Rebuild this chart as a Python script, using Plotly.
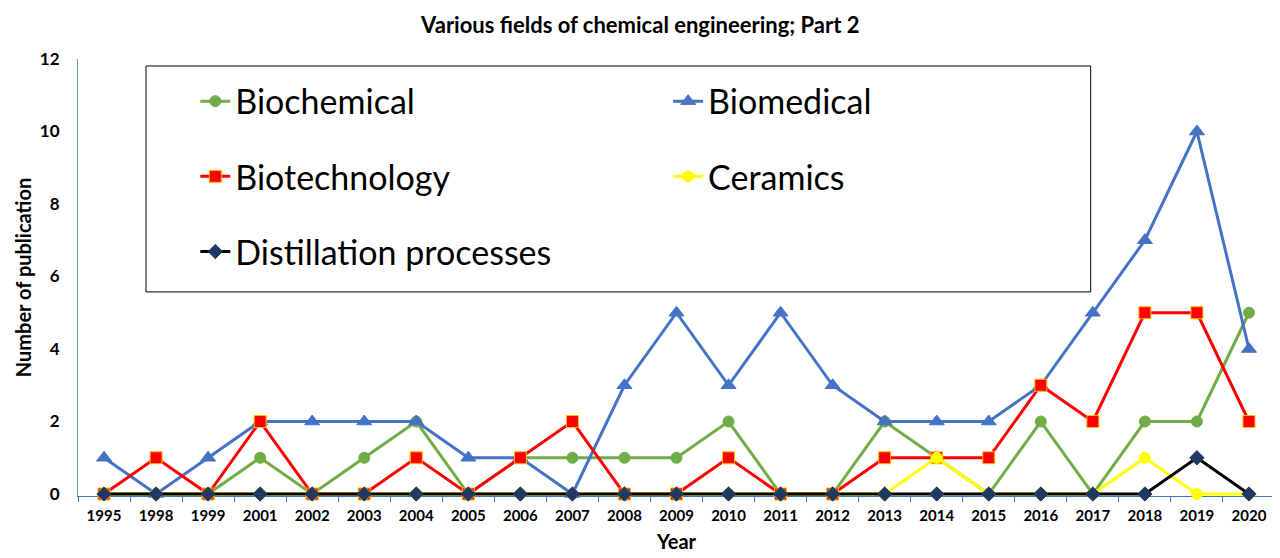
import plotly.graph_objects as go

years = ['1995', '1998', '1999', '2001', '2002', '2003', '2004', '2005', '2006', '2007', '2008', '2009',
         '2010', '2011', '2012', '2013', '2014', '2015', '2016', '2017', '2018', '2019', '2020']

biochemical = [0, 0, 0, 1, 0, 1, 2, 0, 1, 1, 1, 1, 2, 0, 0, 2, 1, 0, 2, 0, 2, 2, 5]
biomedical = [1, 0, 1, 2, 2, 2, 2, 1, 1, 0, 3, 5, 3, 5, 3, 2, 2, 2, 3, 5, 7, 10, 4]
biotechnology = [0, 1, 0, 2, 0, 0, 1, 0, 1, 2, 0, 0, 1, 0, 0, 1, 1, 1, 3, 2, 5, 5, 2]
ceramics = [0, 0, 0, 0, 0, 0, 0, 0, 0, 0, 0, 0, 0, 0, 0, 0, 1, 0, 0, 0, 1, 0, 0]
distillation = [0, 0, 0, 0, 0, 0, 0, 0, 0, 0, 0, 0, 0, 0, 0, 0, 0, 0, 0, 0, 0, 1, 0]

FONT = 'Lato'

fig = go.Figure()

# (name, values, line colour, marker symbol, marker colour, marker border, size, legend)
series = [
    ('Biochemical', biochemical, '#70AD47', 'circle', '#70AD47', '#70AD47', 11, 'legend'),
    ('Biomedical', biomedical, '#4472C4', 'triangle-up', '#4472C4', '#4472C4', 13, 'legend2'),
    ('Biotechnology', biotechnology, '#FF0000', 'square', '#FF0000', '#FFC000', 12, 'legend'),
    ('Ceramics', ceramics, '#FFFF00', 'circle', '#FFFF00', '#FFFF00', 11, 'legend2'),
    ('Distillation processes', distillation, '#000000', 'diamond', '#203864', '#203864', 11, 'legend'),
]

for name, vals, lc, sym, mc, mb, sz, lg in series:
    fig.add_trace(go.Scatter(
        x=years, y=vals, name=name, mode='lines+markers',
        line=dict(color=lc, width=3),
        marker=dict(symbol=sym, color=mc, size=sz, line=dict(color=mb, width=1)),
        cliponaxis=False, legend=lg, legendgroup=name,
    ))

# legend frame
fig.add_shape(type='rect', xref='paper', yref='paper',
              x0=0.0568, x1=0.846, y0=0.467, y1=0.984,
              line=dict(color='black', width=1), fillcolor='rgba(0,0,0,0)')

legend_style = dict(font=dict(family=FONT, size=34, color='black'), bgcolor='rgba(0,0,0,0)',
                    tracegroupgap=28, xanchor='left', yanchor='top', itemwidth=30)

# page body adds 8px offset, so margins are shifted up/left by 8
fig.update_layout(
    width=1280, height=558,
    margin=dict(l=70, r=13, t=51, b=70),
    plot_bgcolor='white', paper_bgcolor='white',
    title=dict(text='<b>Various fields of chemical engineering; Part 2</b>', x=0.494, xanchor='center',
               y=0.9695, yanchor='middle', font=dict(family=FONT, size=22, color='black')),
    legend=dict(x=0.098, y=0.969, **legend_style),
    legend2=dict(x=0.493, y=0.969, **legend_style),
    xaxis=dict(type='category', range=[-0.5, 22.5], showgrid=False, showline=True, automargin=False,
               linecolor='#4472C4', linewidth=1, ticks='outside', tickson='boundaries',
               ticklen=5, tickcolor='#4472C4', layer='below traces', ticklabelstandoff=6,
               tickfont=dict(family=FONT, size=15, color='black', weight='bold'),
               title=dict(text='<b>Year</b>', font=dict(family=FONT, size=20, color='black'), standoff=11)),
    yaxis=dict(range=[-0.055, 12], dtick=2, showgrid=False, showline=True, zeroline=False, automargin=False,
               linecolor='#6F8FC8', linewidth=1, ticks='', layer='below traces', ticklabelstandoff=14,
               tickfont=dict(family=FONT, size=17, color='black', weight='bold'),
               title=dict(text='<b>Number of publication</b>', font=dict(family=FONT, size=20, color='black'),
                          standoff=2)),
)

fig.write_html('out.html')
